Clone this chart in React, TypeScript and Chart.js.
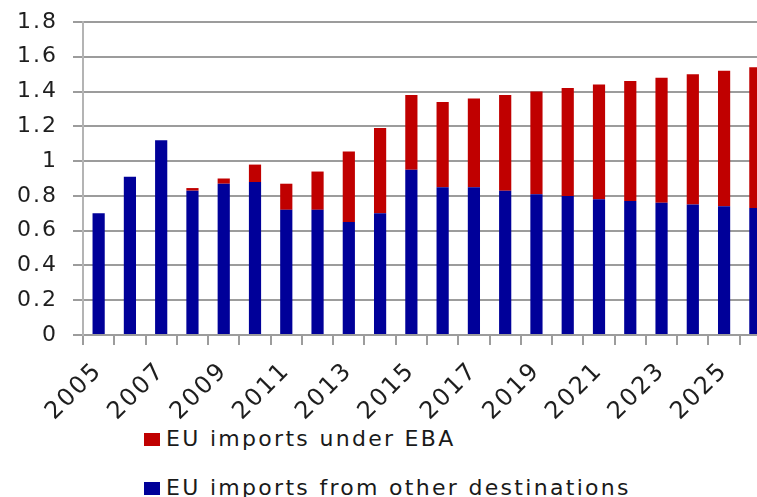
import { useEffect, useRef } from 'react';
import { Chart, registerables } from 'chart.js';

Chart.register(...registerables);

const years = [
  '2005', '2006', '2007', '2008', '2009', '2010', '2011', '2012', '2013', '2014', '2015',
  '2016', '2017', '2018', '2019', '2020', '2021', '2022', '2023', '2024', '2025', '2026',
];

const otherImports = [
  0.70, 0.91, 1.12, 0.83, 0.87, 0.88, 0.72, 0.72, 0.65, 0.70, 0.95,
  0.85, 0.85, 0.83, 0.81, 0.80, 0.78, 0.77, 0.76, 0.75, 0.74, 0.73,
];

const ebaImports = [
  0, 0, 0, 0.015, 0.03, 0.10, 0.15, 0.22, 0.405, 0.49, 0.43,
  0.49, 0.51, 0.55, 0.59, 0.62, 0.66, 0.69, 0.72, 0.75, 0.78, 0.81,
];

const BLUE = '#000099';
const RED = '#c00000';
const GRID = '#9c9c9c';
const TEXT = '#1e1e1e';
const FONT = "'DejaVu Sans', Verdana, sans-serif";

const spacingPlugin = {
  id: 'letterSpacing',
  beforeDraw(chart: any) {
    chart.ctx.letterSpacing = '2px';
  },
};

export default function App() {
  const ref = useRef<HTMLCanvasElement>(null);

  useEffect(() => {
    const chart = new Chart(ref.current as HTMLCanvasElement, {
      type: 'bar',
      data: {
        labels: years,
        datasets: [
          { label: 'EU imports from other destinations', data: otherImports, backgroundColor: BLUE, borderWidth: 0 },
          { label: 'EU imports under EBA', data: ebaImports, backgroundColor: RED, borderWidth: 0 },
        ],
      },
      plugins: [spacingPlugin],
      options: {
        responsive: false,
        animation: false,
        layout: { padding: { top: 22, left: 0, right: 0, bottom: 0 } },
        plugins: { legend: { display: false }, tooltip: { enabled: false } },
        datasets: { bar: { categoryPercentage: 1, barPercentage: 0.39 } },
        scales: {
          x: {
            stacked: true,
            grid: { offset: true, drawOnChartArea: false, drawTicks: true, tickLength: 10, color: GRID, lineWidth: 2 },
            border: { display: true, color: GRID, width: 2 },
            ticks: {
              autoSkip: false,
              minRotation: 45,
              maxRotation: 45,
              padding: 12,
              color: TEXT,
              font: { family: FONT, size: 24 },
              callback: (_v: any, i: number) => (i % 2 === 0 ? years[i] : ''),
            },
            afterFit: (s: any) => {
              s.height = 85;
              s.paddingLeft = 0;
              s.paddingRight = 0;
            },
          },
          y: {
            stacked: true,
            min: 0,
            max: 1.8,
            grid: { color: GRID, lineWidth: 2, tickLength: 10 },
            border: { display: true, color: '#b4b4b4', width: 2 },
            ticks: {
              stepSize: 0.2,
              padding: 15,
              color: TEXT,
              font: { family: FONT, size: 22 },
              callback: (v: any) => String(Number(Number(v).toFixed(1))),
            },
            afterFit: (s: any) => {
              s.width = 83;
              s.paddingTop = 0;
              s.paddingBottom = 0;
            },
          },
        },
      },
    });
    return () => chart.destroy();
  }, []);

  const legendRow = (color: string, text: string, top: number) => (
    <div
      style={{
        position: 'absolute',
        left: 144,
        top,
        display: 'flex',
        alignItems: 'center',
        fontFamily: FONT,
        fontSize: 22,
        lineHeight: '22px',
        letterSpacing: '2.3px',
        color: '#1a1a1a',
        whiteSpace: 'nowrap',
      }}
    >
      <span style={{ display: 'inline-block', width: 16, height: 13, background: color, marginRight: 6 }} />
      <span>{text}</span>
    </div>
  );

  return (
    <div
      style={{
        position: 'absolute',
        left: 0,
        top: 0,
        width: 757,
        height: 497,
        overflow: 'hidden',
        background: '#ffffff',
      }}
    >
      <canvas ref={ref} width={771} height={420} style={{ display: 'block' }} />
      {legendRow(RED, 'EU imports under EBA', 428)}
      {legendRow(BLUE, 'EU imports from other destinations', 477)}
    </div>
  );
}
